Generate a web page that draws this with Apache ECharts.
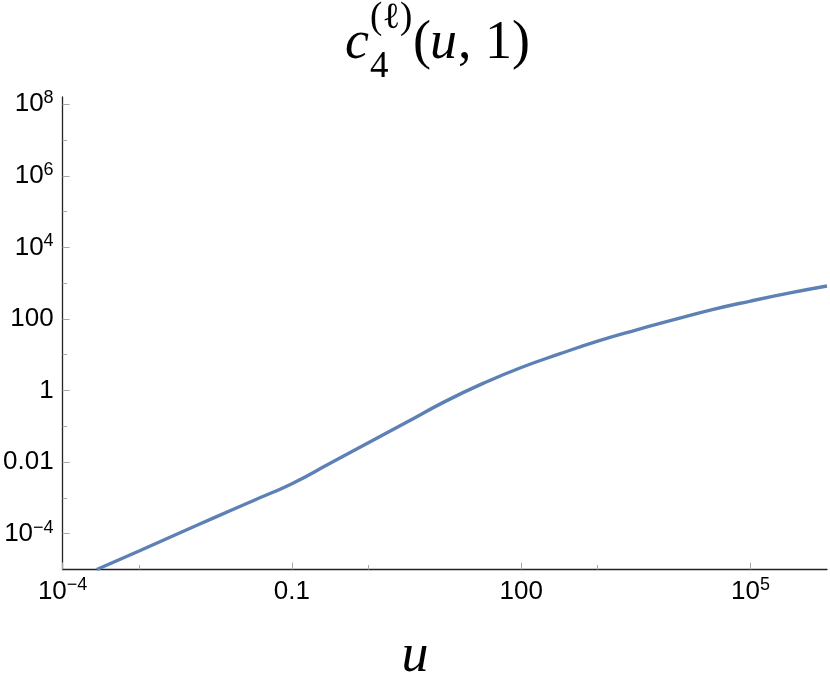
<!DOCTYPE html>
<html>
<head>
<meta charset="utf-8">
<script src="https://cdn.jsdelivr.net/npm/echarts@6/dist/echarts.min.js"></script>
<style>html,body{margin:0;padding:0;background:#fff;}#c{width:830px;height:700px;}</style>
</head>
<body>
<div id="c"></div>
<script>
// u values (x) and c4(u,1) values (y)
var uValues = [2.8e-4, 1e-3, 3.16e-3, 0.01, 0.0316, 0.1, 0.316, 1, 3.16, 10, 31.6, 100, 316, 1000, 3160, 1e4, 3.16e4, 1e5, 3.16e5, 1e6];
var cValues = [1e-5, 3.3e-5, 9.8e-5, 2.9e-4, 8.5e-4, 2.5e-3, 9.3e-3, 0.035, 0.13, 0.49, 1.58, 4.4, 10.5, 24, 49, 95, 182, 316, 525, 830];
// tick positions (decade exponents)
var xMajorTicks = [-4, -1, 2, 5];
var xMinorTicks = [-3, 0, 3];
var yMajorTicks = [-4, -2, 0, 2, 4, 6, 8];
var yMinorTicks = [-3, -1, 1, 3, 5, 7];

var MINUS = '\u2212';
function decadeLabel(e) {
  if (e === 0) return '{b|1}';
  if (e === 1) return '{b|10}';
  if (e === 2) return '{b|100}';
  if (e === -1) return '{b|0.1}';
  if (e === -2) return '{b|0.01}';
  var s = e < 0 ? MINUS + Math.abs(e) : String(e);
  return '{b|10}{s|' + s + '}';
}
var labelRich = {
  b: {fontSize: 26, lineHeight: 30, fontFamily: '"Liberation Sans", Arial, sans-serif', color: '#000'},
  s: {fontSize: 18, lineHeight: 18, verticalAlign: 'top', fontFamily: '"Liberation Sans", Arial, sans-serif', color: '#000'}
};

var seriesData = uValues.map(function (u, i) {
  return [Math.log10(u), Math.log10(cValues[i])];
});

var chart = echarts.init(document.getElementById('c'), null, {renderer: 'canvas'});
var axisLineStyle = {color: '#222', width: 1.3};
var tickStyle = {color: '#a8a8a8', width: 1};

chart.setOption({
  animation: false,
  backgroundColor: '#fff',
  grid: {left: 62, right: 3, top: 97, bottom: 130.5, containLabel: false},
  xAxis: [{
    type: 'value', min: -4, max: 6, position: 'bottom',
    axisLine: {show: true, onZero: false, lineStyle: axisLineStyle},
    axisTick: {show: true, inside: true, length: 7, lineStyle: tickStyle, customValues: xMajorTicks},
    axisLabel: {show: true, margin: 7, customValues: xMajorTicks, rich: labelRich,
      formatter: function (v) { return decadeLabel(Math.round(v)); }},
    splitLine: {show: false}
  }, {
    type: 'value', min: -4, max: 6, position: 'bottom', gridIndex: 0,
    axisLine: {show: false, onZero: false},
    axisTick: {show: true, inside: true, length: 4.5, lineStyle: tickStyle, customValues: xMinorTicks},
    axisLabel: {show: false},
    splitLine: {show: false}
  }],
  yAxis: [{
    type: 'value', min: -5, max: 8.2, position: 'left',
    axisLine: {show: true, onZero: false, lineStyle: axisLineStyle},
    axisTick: {show: true, inside: true, length: 7, lineStyle: tickStyle, customValues: yMajorTicks},
    axisLabel: {show: true, margin: 9, customValues: yMajorTicks, rich: labelRich,
      formatter: function (v) { return decadeLabel(Math.round(v)); }},
    splitLine: {show: false}
  }, {
    type: 'value', min: -5, max: 8.2, position: 'left', gridIndex: 0,
    axisLine: {show: false, onZero: false},
    axisTick: {show: true, inside: true, length: 4.5, lineStyle: tickStyle, customValues: yMinorTicks},
    axisLabel: {show: false},
    splitLine: {show: false}
  }],
  series: [{
    type: 'line',
    xAxisIndex: 0, yAxisIndex: 0,
    data: seriesData,
    showSymbol: false,
    smooth: 0.5,
    clip: true,
    lineStyle: {color: '#5E81B5', width: 3.4},
    itemStyle: {color: '#5E81B5'}
  }],
  graphic: [
    {type: 'text', x: 345, y: 44, style: {text: 'c', font: 'italic 54px "Liberation Serif", "DejaVu Serif", serif', fill: '#000', align: 'left', verticalAlign: 'middle'}},
    {type: 'text', x: 370, y: 18, style: {text: '(\u2113)', font: '37px "Liberation Serif", "DejaVu Serif", serif', fill: '#000', align: 'left', verticalAlign: 'middle'}},
    {type: 'text', x: 370, y: 67, style: {text: '4', font: '37px "Liberation Serif", "DejaVu Serif", serif', fill: '#000', align: 'left', verticalAlign: 'middle'}},
    {type: 'text', x: 413, y: 44, style: {text: '(', font: '54px "Liberation Serif", "DejaVu Serif", serif', fill: '#000', align: 'left', verticalAlign: 'middle'}},
    {type: 'text', x: 430, y: 44, style: {text: 'u', font: 'italic 54px "Liberation Serif", "DejaVu Serif", serif', fill: '#000', align: 'left', verticalAlign: 'middle'}},
    {type: 'text', x: 458, y: 44, style: {text: ', 1)', font: '54px "Liberation Serif", "DejaVu Serif", serif', fill: '#000', align: 'left', verticalAlign: 'middle'}},
    {type: 'text', x: 415, y: 657, style: {text: 'u', font: 'italic 54px "Liberation Serif", "DejaVu Serif", serif', fill: '#000', align: 'center', verticalAlign: 'middle'}}
  ]
});
</script>
</body>
</html>
